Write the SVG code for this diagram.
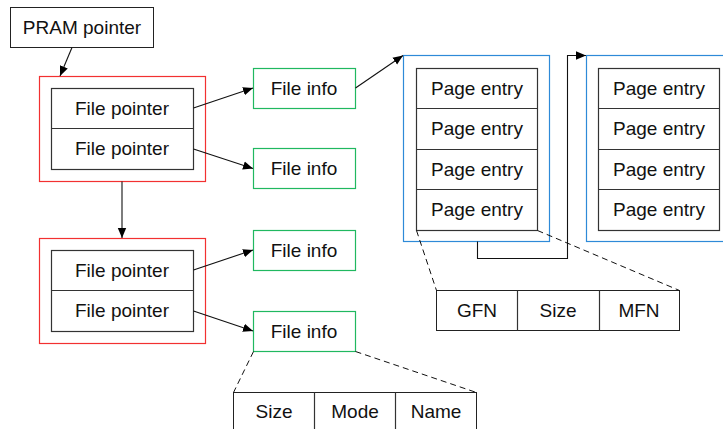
<svg xmlns="http://www.w3.org/2000/svg" width="723" height="429" viewBox="0 0 723 429">
<defs>
<marker id="ah" viewBox="0 0 10 10" refX="10" refY="5" markerWidth="10" markerHeight="10" markerUnits="userSpaceOnUse" orient="auto">
<path d="M0,0.8 L10,5 L0,9.2 z" fill="#000"/>
</marker>
<style>
text{font-family:"Liberation Sans",Arial,sans-serif;font-size:19px;fill:#111;text-anchor:middle}
.box{fill:#fff;stroke:#222;stroke-width:1}
.cell{fill:none;stroke:#333;stroke-width:1.2}
.red{fill:none;stroke:#f23030;stroke-width:1.2}
.green{fill:none;stroke:#20b860;stroke-width:1.2}
.blue{fill:none;stroke:#2e8ad8;stroke-width:1.2}
.arr{fill:none;stroke:#111;stroke-width:1.1;marker-end:url(#ah)}
.dash{fill:none;stroke:#111;stroke-width:1;stroke-dasharray:6,4}
</style>
</defs>

<g id="pram">
<rect class="box" x="10.5" y="7.5" width="143" height="40"/>
<text x="82" y="34">PRAM pointer</text>
</g>

<g id="block1">
<rect class="red" x="39.5" y="76.5" width="166" height="105"/>
<rect class="cell" x="51.5" y="88.5" width="142" height="81"/>
<line class="cell" x1="51.5" y1="128.5" x2="193.5" y2="128.5"/>
<text x="122" y="114.5">File pointer</text>
<text x="122" y="155">File pointer</text>
</g>

<g id="block2">
<rect class="red" x="39.5" y="238.5" width="166" height="105"/>
<rect class="cell" x="51.5" y="250.5" width="142" height="81"/>
<line class="cell" x1="51.5" y1="290.5" x2="193.5" y2="290.5"/>
<text x="122" y="276.5">File pointer</text>
<text x="122" y="317">File pointer</text>
</g>

<g id="fileinfo1">
<rect class="green" x="253.5" y="68.5" width="102" height="40"/>
<text x="304" y="94.5">File info</text>
</g>
<g id="fileinfo2">
<rect class="green" x="253.5" y="148.5" width="102" height="40"/>
<text x="304" y="175">File info</text>
</g>
<g id="fileinfo3">
<rect class="green" x="253.5" y="230.5" width="102" height="40"/>
<text x="304" y="256.5">File info</text>
</g>
<g id="fileinfo4">
<rect class="green" x="253.5" y="311.5" width="102" height="40"/>
<text x="304" y="337.5">File info</text>
</g>

<g id="pagetable1">
<rect class="blue" x="403.5" y="55.5" width="146" height="186"/>
<rect class="cell" x="416.5" y="68.5" width="121" height="162"/>
<line class="cell" x1="416.5" y1="108.5" x2="537.5" y2="108.5"/>
<line class="cell" x1="416.5" y1="149.5" x2="537.5" y2="149.5"/>
<line class="cell" x1="416.5" y1="189.5" x2="537.5" y2="189.5"/>
<text x="477" y="94.5">Page entry</text>
<text x="477" y="135">Page entry</text>
<text x="477" y="175.5">Page entry</text>
<text x="477" y="216">Page entry</text>
</g>

<g id="pagetable2">
<rect class="blue" x="586.5" y="55.5" width="146" height="186"/>
<rect class="cell" x="598.5" y="68.5" width="121" height="162"/>
<line class="cell" x1="598.5" y1="108.5" x2="719.5" y2="108.5"/>
<line class="cell" x1="598.5" y1="149.5" x2="719.5" y2="149.5"/>
<line class="cell" x1="598.5" y1="189.5" x2="719.5" y2="189.5"/>
<text x="659" y="94.5">Page entry</text>
<text x="659" y="135">Page entry</text>
<text x="659" y="175.5">Page entry</text>
<text x="659" y="216">Page entry</text>
</g>

<g id="pageentry-detail">
<rect class="box" x="436.5" y="290.5" width="243" height="40"/>
<line class="cell" x1="517.5" y1="290.5" x2="517.5" y2="330.5"/>
<line class="cell" x1="599.5" y1="290.5" x2="599.5" y2="330.5"/>
<text x="477" y="317">GFN</text>
<text x="558" y="317">Size</text>
<text x="639" y="317">MFN</text>
</g>

<g id="fileinfo-detail">
<rect class="box" x="233.5" y="392.5" width="243" height="42"/>
<line class="cell" x1="314.5" y1="392.5" x2="314.5" y2="434"/>
<line class="cell" x1="395.5" y1="392.5" x2="395.5" y2="434"/>
<text x="274" y="418">Size</text>
<text x="355" y="418">Mode</text>
<text x="436" y="418">Name</text>
</g>

<g id="connectors">
<line class="arr" x1="72" y1="47.5" x2="60" y2="76"/>
<line class="arr" x1="122" y1="181.5" x2="122" y2="238"/>
<line class="arr" x1="193.5" y1="108" x2="253" y2="88"/>
<line class="arr" x1="193.5" y1="149" x2="253" y2="168.5"/>
<line class="arr" x1="193.5" y1="270" x2="253" y2="250"/>
<line class="arr" x1="193.5" y1="311" x2="253" y2="331"/>
<line class="arr" x1="355.5" y1="88" x2="403" y2="55.5"/>
<polyline class="arr" points="477.5,241.5 477.5,258.5 567.5,258.5 567.5,55.5 586,55.5"/>
<line class="dash" x1="416.5" y1="230.5" x2="436.5" y2="290.5"/>
<line class="dash" x1="537.5" y1="230.5" x2="679.5" y2="290.5"/>
<line class="dash" x1="253.5" y1="351.5" x2="233.5" y2="392.5"/>
<line class="dash" x1="355.5" y1="351.5" x2="476.5" y2="392.5"/>
</g>
</svg>
